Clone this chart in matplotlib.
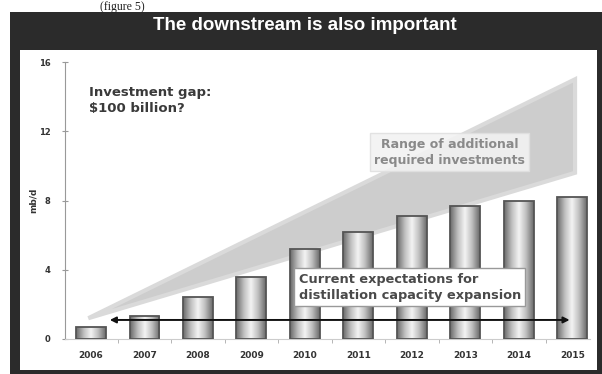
import numpy as np
import matplotlib.pyplot as plt
from matplotlib.patches import Rectangle, Polygon
from matplotlib.colors import LinearSegmentedColormap

years = ['2006', '2007', '2008', '2009', '2010', '2011', '2012', '2013', '2014', '2015']
capacity = [0.7, 1.35, 2.4, 3.6, 5.2, 6.2, 7.1, 7.7, 8.0, 8.2]   # mb/d
wedge_x = [-0.05, 9.05, 9.05]
wedge_y = [1.2, 15.0, 9.6]
arrow_level = 1.1
y_ticks = [0, 4, 8, 12, 16]

fig = plt.figure(figsize=(6.02, 3.74), dpi=100)
fig.patch.set_facecolor('white')

# dark slide frame with white panel inside
fig.patches.append(Rectangle((10/602, 0), 1 - 10/602, 1 - 12/374, transform=fig.transFigure,
                             facecolor='#2b2b2b', edgecolor='none', zorder=-2))
fig.patches.append(Rectangle((20/602, 4/374), 577/602, (374 - 50 - 4)/374,
                             transform=fig.transFigure, facecolor='white', edgecolor='none', zorder=-1))

fig.text(100/602, 1 - 10/374, '(figure 5)', family='Liberation Serif', fontsize=8.5,
         color='#222222', va='baseline', ha='left')
fig.text(305/602, 1 - 25/374, 'The downstream is also important', family='Liberation Sans',
         fontsize=13.5, fontweight='bold', color='white', ha='center', va='center')

ax = fig.add_axes([65/602, (374 - 339)/374, (590 - 65)/602, (339 - 62)/374])
ax.set_zorder(2)
ax.set_facecolor('none')

ax.add_patch(Polygon(list(zip(wedge_x, wedge_y)), closed=True, facecolor='#cdcdcd',
                     edgecolor='#dadada', linewidth=3, zorder=1))

# cylinder-like bars: horizontal grey gradient clipped to each bar
grey = LinearSegmentedColormap.from_list('cyl', ['#6a6a6a', '#bdbdbd', '#f4f4f4', '#bdbdbd', '#6a6a6a'])
grad = np.linspace(0, 1, 64).reshape(1, -1)
w = 0.56
for i, v in enumerate(capacity):
    rect = Rectangle((i - w/2, 0), w, v, facecolor='none', edgecolor='#555555', linewidth=1.3, zorder=4)
    ax.add_patch(rect)
    img = ax.imshow(grad, cmap=grey, extent=[i - w/2, i + w/2, 0, v], aspect='auto', zorder=3)
    img.set_clip_path(rect)

ax.set_xlim(-0.486, 9.33)
ax.set_ylim(0, 16)

ax.annotate('', xy=(9.0, arrow_level), xytext=(0.3, arrow_level),
            arrowprops=dict(arrowstyle='<|-|>', color='#111111', lw=1.4, mutation_scale=9), zorder=6)

ax.text(-0.03, 14.6, 'Investment gap:\n$100 billion?', fontsize=9.5, fontweight='bold',
        color='#3a3a3a', va='top', ha='left', linespacing=1.25, zorder=5)
ax.text(6.7, 10.8, 'Range of additional\nrequired investments', fontsize=9, fontweight='bold',
        color='#8a8a8a', ha='center', va='center', linespacing=1.3, zorder=5,
        bbox=dict(boxstyle='square,pad=0.35', facecolor='#f2f2f2', edgecolor='#e0e0e0', alpha=0.9))
ax.text(3.88, 3.0, 'Current expectations for\ndistillation capacity expansion', fontsize=9.3,
        fontweight='bold', color='#4a4a4a', ha='left', va='center', linespacing=1.3, zorder=7,
        bbox=dict(boxstyle='square,pad=0.35', facecolor='white', edgecolor='#999999', lw=1))

ax.set_xticks(range(len(years)))
ax.set_xticklabels(years, fontsize=6.5, fontweight='bold', color='#333333')
ax.set_xticks(np.arange(0.5, 9, 1), minor=True)
ax.tick_params(axis='x', which='major', length=0, pad=9)
ax.tick_params(axis='x', which='minor', length=3, color='#aaaaaa', direction='out')
ax.set_yticks(y_ticks)
ax.set_yticklabels([str(t) for t in y_ticks], fontsize=6, fontweight='bold', color='#333333')
ax.tick_params(axis='y', direction='inout', length=5, color='#999999', pad=8)
ax.set_ylabel('mb/d', fontsize=6.5, fontweight='bold', color='#333333', labelpad=1)

for s in ['top', 'right']:
    ax.spines[s].set_visible(False)
ax.spines['left'].set_color('#999999')
ax.spines['bottom'].set_color('#cccccc')

fig.savefig('out.png', dpi=100)
